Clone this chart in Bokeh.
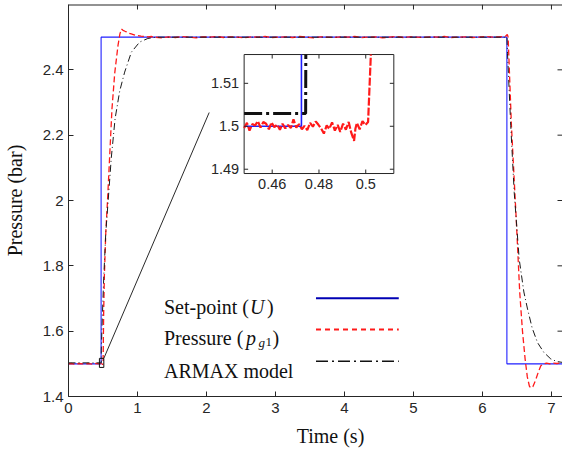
import math
from bokeh.plotting import figure
from bokeh.models import Range1d, FixedTicker, Label
from bokeh.embed import file_html
from bokeh.resources import INLINE

# ---------------- data ----------------
setpoint_t = [0.0, 0.4725, 0.4725, 6.354, 6.354, 7.2]
setpoint_v = [1.5, 1.5, 2.5, 2.5, 1.5, 1.5]

pressure_t = [0.00, 0.04, 0.08, 0.12, 0.16, 0.20, 0.24, 0.28, 0.32, 0.36, 0.40, 0.44,
              0.4480, 0.4492, 0.4503, 0.4515, 0.4527, 0.4539, 0.4550, 0.4562, 0.4574, 0.4586,
              0.4597, 0.4609, 0.4621, 0.4633, 0.4644, 0.4656, 0.4668, 0.4680, 0.4691, 0.4703,
              0.4715, 0.4727, 0.4738, 0.4750, 0.4762, 0.4774, 0.4786, 0.4797, 0.4809, 0.4821,
              0.4833, 0.4844, 0.4856, 0.4868, 0.4880, 0.4891, 0.4903, 0.4915, 0.4927, 0.4938,
              0.4950, 0.4956, 0.4962, 0.4974, 0.4986, 0.4998, 0.5010, 0.5022, 0.5035,
              0.51, 0.52, 0.54, 0.564, 0.60, 0.63, 0.67, 0.717, 0.745, 0.767,
              0.79, 0.82, 0.85, 0.88, 0.91, 0.94, 0.97, 1.00, 1.05, 1.10, 1.15, 1.20,
              1.25, 1.35, 1.45, 1.55, 1.65, 1.75, 1.85, 1.95, 2.05, 2.15, 2.25, 2.35, 2.45,
              2.55, 2.65, 2.75, 2.85, 2.95, 3.05, 3.15, 3.25, 3.35, 3.45, 3.55, 3.65, 3.75,
              3.85, 3.95, 4.05, 4.15, 4.25, 4.35, 4.45, 4.55, 4.65, 4.75, 4.85, 4.95, 5.05,
              5.15, 5.25, 5.35, 5.45, 5.55, 5.65, 5.75, 5.85, 5.95, 6.05, 6.15, 6.25, 6.33,
              6.36, 6.372, 6.42, 6.494, 6.54, 6.58, 6.618, 6.65, 6.68, 6.70, 6.73, 6.77, 6.81,
              6.846, 6.88, 6.93, 6.98, 7.03, 7.08, 7.13, 7.2]
pressure_v = [1.500, 1.501, 1.499, 1.500, 1.501, 1.500, 1.499, 1.501, 1.500, 1.499, 1.501, 1.500,
              1.4996, 1.5008, 1.4990, 1.5005, 1.5002, 1.5012, 1.4997, 1.5010, 1.5006, 1.4993,
              1.5009, 1.4998, 1.5004, 1.4992, 1.5006, 1.4995, 1.5003, 1.4996, 1.5016, 1.4997,
              1.5005, 1.4993, 1.5001, 1.4991, 1.5008, 1.4999, 1.5011, 1.5004, 1.4995, 1.4983,
              1.5002, 1.4994, 1.5009, 1.4990, 1.5003, 1.4987, 1.5006, 1.4992, 1.5010, 1.4985,
              1.4966, 1.4995, 1.5008, 1.4993, 1.5012, 1.5003, 1.5010, 1.5170, 1.5400,
              1.66, 1.77, 1.90, 1.994, 2.15, 2.28, 2.39, 2.474, 2.51, 2.525,
              2.521, 2.518, 2.516, 2.512, 2.510, 2.508, 2.506, 2.505, 2.503, 2.502, 2.501, 2.502,
              2.500, 2.498, 2.501, 2.499, 2.502, 2.500, 2.498, 2.501, 2.500, 2.502, 2.499, 2.501, 2.500,
              2.498, 2.501, 2.500, 2.502, 2.499, 2.500, 2.501, 2.499, 2.502, 2.500, 2.498, 2.501, 2.500,
              2.499, 2.501, 2.500, 2.502, 2.499, 2.500, 2.501, 2.498, 2.500, 2.502, 2.499, 2.501, 2.500,
              2.499, 2.501, 2.500, 2.502, 2.499, 2.500, 2.501, 2.499, 2.500, 2.502, 2.500, 2.501, 2.502,
              2.508, 2.500, 2.229, 1.923, 1.719, 1.600, 1.515, 1.460, 1.432, 1.426, 1.430, 1.450, 1.475,
              1.494, 1.499, 1.502, 1.500, 1.502, 1.501, 1.503, 1.502]

armax_t = [0.0, 0.4743, 0.4745, 0.49, 0.51, 0.54, 0.573, 0.62, 0.675, 0.742, 0.814, 0.911,
           1.031, 1.15, 1.27, 6.355, 6.363, 6.41, 6.46, 6.532, 6.60, 6.653, 6.72, 6.798,
           6.89, 6.99, 7.08, 7.2]
armax_v = [1.503, 1.503, 1.54, 1.64, 1.76, 1.90, 1.994, 2.13, 2.25, 2.335, 2.393, 2.454,
           2.485, 2.496, 2.500, 2.500, 2.45, 2.229, 2.025, 1.821, 1.72, 1.668, 1.61, 1.565,
           1.535, 1.515, 1.507, 1.503]

x_ticks = [0, 1, 2, 3, 4, 5, 6, 7]
x_tick_labels = ["0", "1", "2", "3", "4", "5", "6", "7"]
y_ticks = [1.4, 1.6, 1.8, 2.0, 2.2, 2.4]
y_tick_labels = ["1.4", "1.6", "1.8", "2", "2.2", "2.4"]
x_label = "Time (s)"
y_label = "Pressure (bar)"

inset_x_range = [0.448, 0.512]
inset_y_range = [1.489, 1.5167]
inset_x_ticks = [0.46, 0.48, 0.50]
inset_x_tick_labels = ["0.46", "0.48", "0.5"]
inset_y_ticks = [1.49, 1.50, 1.51]
inset_y_tick_labels = ["1.49", "1.5", "1.51"]

legend_labels = ["Set-point (", "Pressure (", "ARMAX model"]

# ---------------- layout constants ----------------
X_RANGE = (0, 7.16)
Y_RANGE = (1.4, 2.6)
INSET_BOX_X = (2.5456, 4.7151)   # inset frame in main data coords
INSET_BOX_Y = (2.0826, 2.4468)
ZOOM_LINE_END = (2.039, 2.2693)
AX = "#262626"
SANS = "Liberation Sans"
SERIF = "Liberation Serif"
NBSP = "\u00a0"

p = figure(width=562, height=454, x_range=Range1d(*X_RANGE), y_range=Range1d(*Y_RANGE),
           output_backend="svg", toolbar_location=None,
           min_border_left=67, min_border_right=0, min_border_top=4, min_border_bottom=58)
p.background_fill_color = "white"
p.border_fill_color = "white"
p.outline_line_color = None
p.grid.visible = False

bottom = p.below[0]
left = p.left[0]
for ax in (bottom, left):
    ax.axis_line_color = AX
    ax.major_tick_line_color = AX
    ax.minor_tick_line_color = None
    ax.major_tick_in = 5
    ax.major_tick_out = 0
    ax.major_label_text_font = SANS
    ax.major_label_text_font_size = "15px"
    ax.major_label_text_color = AX
    ax.axis_label_text_font = SERIF
    ax.axis_label_text_font_size = "20px"
    ax.axis_label_text_font_style = "normal"
    ax.axis_label_text_color = "#111111"

bottom.ticker = FixedTicker(ticks=x_ticks)
bottom.major_label_overrides = dict(zip(x_ticks, x_tick_labels))
bottom.major_label_standoff = 6
bottom.axis_label = NBSP * 6 + x_label
bottom.axis_label_standoff = 9

left.ticker = FixedTicker(ticks=y_ticks)
left.major_label_overrides = dict(zip(y_ticks, y_tick_labels))
left.major_label_standoff = 5
left.axis_label = y_label
left.axis_label_standoff = 14

# top border (half clipped by the frame) and inward top / right ticks
p.line(list(X_RANGE), [Y_RANGE[1]] * 2, line_color=AX, line_width=2)
p.ray(x=x_ticks, y=[Y_RANGE[1]] * len(x_ticks), length=5, length_units="screen",
      angle=-math.pi / 2, line_color=AX, line_width=1)
p.ray(x=[X_RANGE[1]] * len(y_ticks), y=y_ticks, length=5, length_units="screen",
      angle=math.pi, line_color=AX, line_width=1)

# main series
p.line(setpoint_t, setpoint_v, line_color="#1f1fff", line_width=1.1)
p.line(pressure_t, pressure_v, line_color="#ff1a1a", line_width=1.3, line_dash="6 3")
p.line(armax_t, armax_v, line_color="#1a1a1a", line_width=1.0, line_dash="7 3 1 3")

# zoom rectangle and connecting line
p.quad(left=[inset_x_range[0]], right=[inset_x_range[1]], bottom=[inset_y_range[0]],
       top=[inset_y_range[1]], fill_color=None, line_color="#111111", line_width=1)
p.line([inset_x_range[1], ZOOM_LINE_END[0]], [inset_y_range[1], ZOOM_LINE_END[1]],
       line_color="#111111", line_width=0.9)

# ---------------- inset ----------------
sub = p.subplot(x_source=Range1d(*inset_x_range), y_source=Range1d(*inset_y_range),
                x_target=Range1d(*INSET_BOX_X), y_target=Range1d(*INSET_BOX_Y))

sub.quad(left=[inset_x_range[0]], right=[inset_x_range[1]], bottom=[inset_y_range[0]],
         top=[inset_y_range[1]], fill_color="white", line_color=AX, line_width=1)


def clip_polyline(xs, ys, x0, x1, y0, y1):
    pieces, cx, cy = [], [], []
    for i in range(len(xs) - 1):
        ax_, ay_, bx_, by_ = xs[i], ys[i], xs[i + 1], ys[i + 1]
        dx, dy = bx_ - ax_, by_ - ay_
        t0, t1, ok = 0.0, 1.0, True
        for pp, qq in ((-dx, ax_ - x0), (dx, x1 - ax_), (-dy, ay_ - y0), (dy, y1 - ay_)):
            if pp == 0:
                if qq < 0:
                    ok = False
                    break
            else:
                r = qq / pp
                if pp < 0:
                    if r > t1:
                        ok = False
                        break
                    t0 = max(t0, r)
                else:
                    if r < t0:
                        ok = False
                        break
                    t1 = min(t1, r)
        if not ok:
            if cx:
                pieces.append((cx, cy))
                cx, cy = [], []
            continue
        if cx and t0 > 0:
            pieces.append((cx, cy))
            cx, cy = [], []
        if not cx:
            cx, cy = [ax_ + t0 * dx], [ay_ + t0 * dy]
        cx.append(ax_ + t1 * dx)
        cy.append(ay_ + t1 * dy)
        if t1 < 1:
            pieces.append((cx, cy))
            cx, cy = [], []
    if cx:
        pieces.append((cx, cy))
    return [pc[0] for pc in pieces], [pc[1] for pc in pieces]


box = (inset_x_range[0], inset_x_range[1], inset_y_range[0], inset_y_range[1])
bx, by = clip_polyline(setpoint_t, setpoint_v, *box)
sub.multi_line(bx, by, line_color="#1f1fff", line_width=1.6)
kx, ky = clip_polyline(armax_t, armax_v, *box)
sub.multi_line(kx, ky, line_color="#111111", line_width=3, line_dash="18 4 3 4")
rx, ry = clip_polyline(pressure_t, pressure_v, *box)
sub.multi_line(rx, ry, line_color="#ff1a1a", line_width=2.2, line_dash="8 2")

# inset ticks
n = len(inset_x_ticks)
sub.ray(x=inset_x_ticks, y=[inset_y_range[0]] * n, length=4, length_units="screen",
        angle=math.pi / 2, line_color=AX)
sub.ray(x=inset_x_ticks, y=[inset_y_range[1]] * n, length=4, length_units="screen",
        angle=-math.pi / 2, line_color=AX)
m = len(inset_y_ticks)
sub.ray(x=[inset_x_range[0]] * m, y=inset_y_ticks, length=4, length_units="screen",
        angle=0, line_color=AX)
sub.ray(x=[inset_x_range[1]] * m, y=inset_y_ticks, length=4, length_units="screen",
        angle=math.pi, line_color=AX)
sub.text(x=inset_x_ticks, y=[inset_y_range[0]] * n, text=inset_x_tick_labels,
         text_align="center", text_baseline="top", y_offset=5,
         text_font={"value": SANS}, text_font_size="14.5px", text_color=AX)
sub.text(x=[inset_x_range[0]] * m, y=inset_y_ticks, text=inset_y_tick_labels,
         text_align="right", text_baseline="middle", x_offset=-5,
         text_font={"value": SANS}, text_font_size="14.5px", text_color=AX)

# ---------------- legend ----------------
LX = 1.384
LY_TEXT = [1.6733, 1.5784, 1.4774]
LY_LINE = [1.7009, 1.6051, 1.5080]
L_LINE_X = [3.587, 4.787]


def lab(text, y, dx=0, dy=0, size="20px", style="normal"):
    p.add_layout(Label(x=LX, y=y, x_offset=dx, y_offset=dy, text=text, text_font=SERIF,
                       text_font_size=size, text_font_style=style, text_color="#111111",
                       text_baseline="alphabetic", text_align="left"))


lab(legend_labels[0], LY_TEXT[0])
lab("U", LY_TEXT[0], dx=86, style="italic")
lab(")", LY_TEXT[0], dx=103)
lab(legend_labels[1], LY_TEXT[1])
lab("p", LY_TEXT[1], dx=82, style="italic")
lab("g", LY_TEXT[1], dx=94.5, dy=-4, size="13px", style="italic")
lab("1", LY_TEXT[1], dx=101.5, dy=-4, size="13px")
lab(")", LY_TEXT[1], dx=108.5)
lab(legend_labels[2], LY_TEXT[2])

p.line(L_LINE_X, [LY_LINE[0]] * 2, line_color="#0000b4", line_width=2)
p.line(L_LINE_X, [LY_LINE[1]] * 2, line_color="#ff1a1a", line_width=2, line_dash="5 4")
p.line(L_LINE_X, [LY_LINE[2]] * 2, line_color="#111111", line_width=1.6, line_dash="12 4 2 4")

open("out.html", "w").write(file_html(p, INLINE))
